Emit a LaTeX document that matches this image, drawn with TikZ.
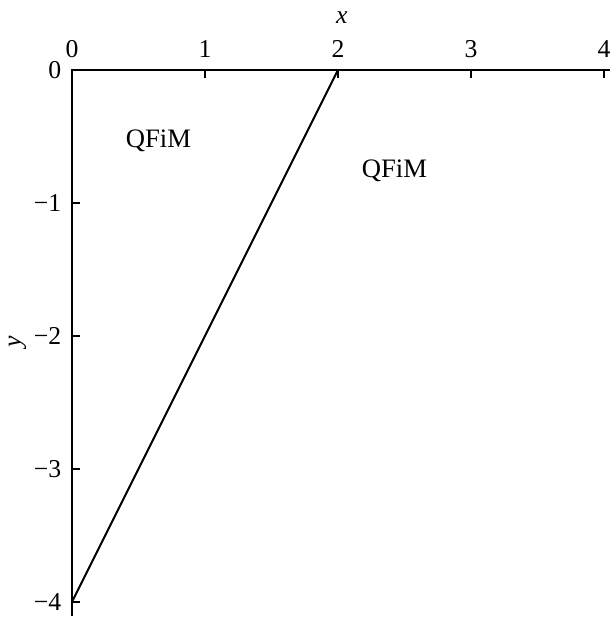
\documentclass[tikz,border=0pt]{standalone}
\usepackage{fontspec}
\setmainfont{Liberation Serif}
\usepackage{tikz}
\usetikzlibrary{positioning,calc}

\tikzset{
    axisline/.style={line width=0.9pt},
    ticklabel/.style={font=\fontsize{11}{13}\selectfont, inner sep=1pt},
    phaselabel/.style={font=\fontsize{11.4}{13}\selectfont}
}

\begin{document}
\begin{tikzpicture}[x=2cm, y=2cm]
    \useasboundingbox (-0.541,-4.128) rectangle (4.045,0.526);
    % Axes
    \def\tick{0.06}
    \coordinate (origin) at (0,0);
    \coordinate (xend) at (4.05,0);
    \coordinate (yend) at (0,-4.105);
    \draw[axisline] (xend) -- (origin) -- (yend);
    \foreach \i in {0,...,4} {
        \draw[axisline] (\i,0) -- (\i,-\tick);
        \node[ticklabel] (xt\i) at (\i,0.155) {\i};
    }
    \foreach \i in {1,...,4} {
        \draw[axisline] (0,-\i) -- (\tick,-\i);
        \node[ticklabel, anchor=east] (yt\i) at (-0.06,-\i) {−\i};
    }
    \node[ticklabel, anchor=east] (yt0) at (-0.06,0) {0};

    % Labels
    \node[ticklabel] (xlab) at (2.03,0.39) {\textit{x}};
    \node[ticklabel, rotate=90] (ylab) at (-0.41,-2.045) {\textit{y}};

    % Phase boundary
    \coordinate (btop) at (2,0);
    \coordinate (bbot) at (0,-4);
    \draw[line width=0.9pt] (btop) -- (bbot);

    % Phases
    \node[phaselabel] (qleft) at (0.65,-0.534) {QFiM};
    \node[phaselabel] (qright) at (2.425,-0.76) {QFiM};
\end{tikzpicture}
\end{document}
